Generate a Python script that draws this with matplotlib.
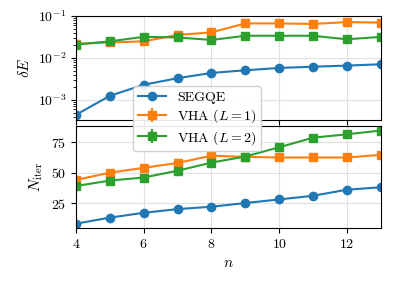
import numpy as np
import matplotlib
matplotlib.use("Agg")
import matplotlib.pyplot as plt

plt.rcParams["font.family"] = "serif"
plt.rcParams["font.serif"] = ["cmr10"]
plt.rcParams["mathtext.fontset"] = "cm"
plt.rcParams["axes.formatter.use_mathtext"] = True
plt.rcParams["font.size"] = 10
plt.rcParams["axes.labelsize"] = 11

# data
n = [4, 5, 6, 7, 8, 9, 10, 11, 12, 13]

dE_segqe = [4.4e-4, 1.25e-3, 2.3e-3, 3.3e-3, 4.4e-3, 5.1e-3, 5.8e-3, 6.2e-3, 6.6e-3, 7.1e-3]
dE_vha1 = [2.18e-2, 2.35e-2, 2.5e-2, 3.55e-2, 4.1e-2, 6.7e-2, 6.7e-2, 6.5e-2, 7.2e-2, 7.0e-2]
dE_vha2 = [2.1e-2, 2.5e-2, 3.2e-2, 3.1e-2, 2.7e-2, 3.4e-2, 3.4e-2, 3.4e-2, 2.8e-2, 3.2e-2]

it_segqe = [8, 13, 17, 20, 22, 25, 28, 31, 36, 38]
it_vha1 = [44, 50, 54, 58, 64, 63, 62.5, 62.5, 62.5, 64.7]
it_vha2 = [39, 43.5, 46, 51.6, 58.3, 63.3, 70.9, 78.8, 81.6, 84.7]

fig = plt.figure(figsize=(3.93, 2.88), dpi=100)
ax1 = fig.add_axes([0.193, 0.583, 0.776, 0.361])
ax2 = fig.add_axes([0.193, 0.207, 0.776, 0.356], sharex=ax1)

c1, c2, c3 = "#1f77b4", "#ff7f0e", "#2ca02c"

ax1.plot(n, dE_segqe, "o-", color=c1, label="SEGQE")
ax1.errorbar(n, dE_vha1, yerr=0, fmt="s-", color=c2, label=r"VHA ($L=1$)")
ax1.errorbar(n, dE_vha2, yerr=0, fmt="s-", color=c3, label=r"VHA ($L=2$)")
ax1.set_yscale("log")
ax1.set_ylim(3.3e-4, 1e-1)
ax1.set_ylabel(r"$\delta E$")
ax1.grid(True, color="#e0e0e0", linewidth=0.8)
ax1.tick_params(labelbottom=False)

ax2.plot(n, it_segqe, "o-", color=c1)
ax2.errorbar(n, it_vha1, yerr=0, fmt="s-", color=c2)
ax2.errorbar(n, it_vha2, yerr=0, fmt="s-", color=c3)
ax2.set_yticks([25, 50, 75])
ax2.set_ylabel(r"$N_{\mathrm{iter}}$")
ax2.set_xlabel(r"$n$")
ax2.set_xlim(4, 13)
ax2.set_xticks([4, 6, 8, 10, 12])
ax2.grid(True, color="#e0e0e0", linewidth=0.8)

for ax in (ax1, ax2):
    ax.set_axisbelow(True)

h, l = ax1.get_legend_handles_labels()
fig.legend(h, l, loc="center", bbox_to_anchor=(0.502, 0.587), framealpha=0.9,
           labelspacing=0.25, borderpad=0.35)

fig.align_ylabels([ax1, ax2])
fig.savefig("out.png", dpi=100)
